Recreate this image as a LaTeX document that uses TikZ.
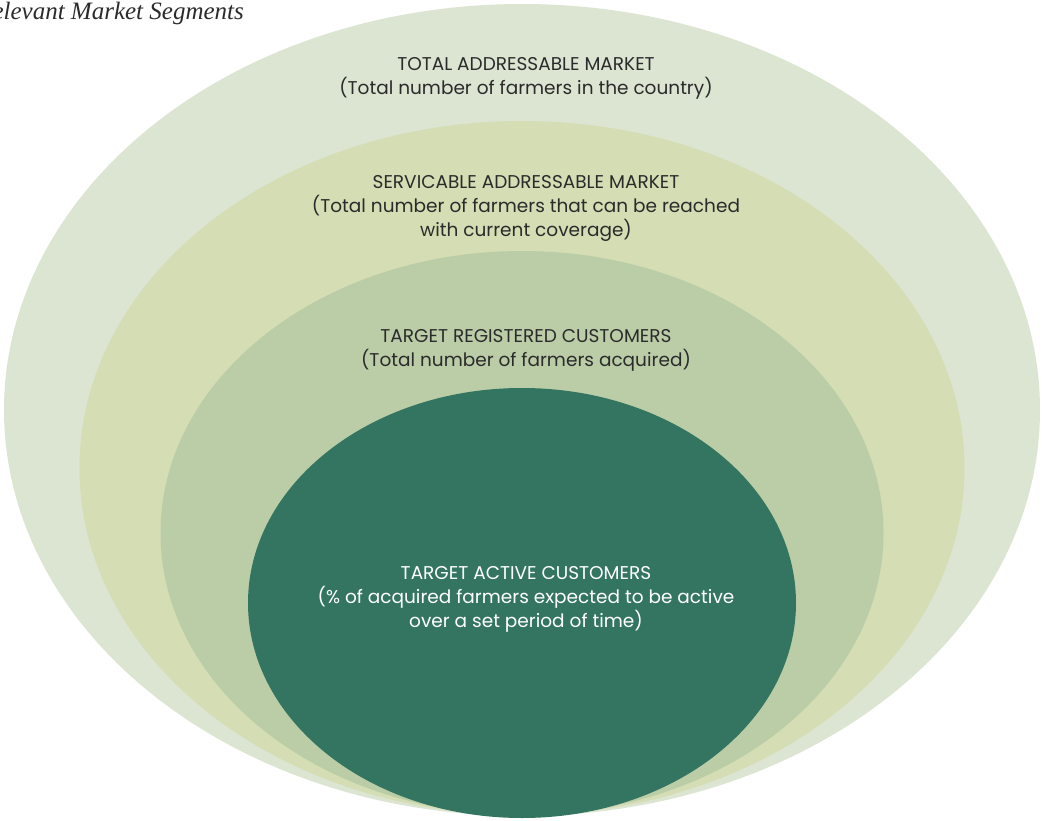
\documentclass[tikz,border=0pt]{standalone}
\usepackage{fontspec}
\setmainfont{Poppins}
\newfontfamily\titlefont{Liberation Serif}
\usetikzlibrary{shapes.geometric, positioning}
\definecolor{tamgreen}{HTML}{DCE5D2}
\definecolor{samgreen}{HTML}{D4DDB3}
\definecolor{trcgreen}{HTML}{BBCDA7}
\definecolor{tacgreen}{HTML}{337560}
\definecolor{labelgray}{HTML}{2B2B2B}
\tikzset{
x=1pt, y=-1pt, % pixel-like units, y going down
segment/.style={ellipse, inner sep=0pt, draw=none}, % one market segment
seglabel/.style={align=center, font=\fontsize{18.5}{24}\selectfont, text=labelgray}, % text in a segment
}

\begin{document}
\begin{tikzpicture}
        \useasboundingbox (0,0) rectangle (1042,821);
        \node[segment, fill=tamgreen, minimum width=1036pt, minimum height=812pt] (tam) at (522,410) {};
        \node[segment, fill=samgreen, minimum width=885pt, minimum height=694pt] (sam) at (522,468) {};
        \node[segment, fill=trcgreen, minimum width=723pt, minimum height=564pt] (trc) at (522,533) {};
        \node[segment, fill=tacgreen, minimum width=548pt, minimum height=430pt] (tac) at (522,603) {};

        \node[seglabel] (tamtext) at (526,78) {TOTAL ADDRESSABLE MARKET\\(Total number of farmers in the country)};
        \node[seglabel] (samtext) at (526,208) {SERVICABLE ADDRESSABLE MARKET\\(Total number of farmers that can be reached\\with current coverage)};
        \node[seglabel] (trctext) at (526,350) {TARGET REGISTERED CUSTOMERS\\(Total number of farmers acquired)};
        \node[seglabel, text=white] (tactext) at (526,599) {TARGET ACTIVE CUSTOMERS\\(\% of acquired farmers expected to be active\\over a set period of time)};

        \node[anchor=base east, font=\titlefont\itshape\fontsize{25}{28}\selectfont, text=labelgray, inner sep=0pt] (title) at (244,20) {Relevant Market Segments};
      \end{tikzpicture}
\end{document}
